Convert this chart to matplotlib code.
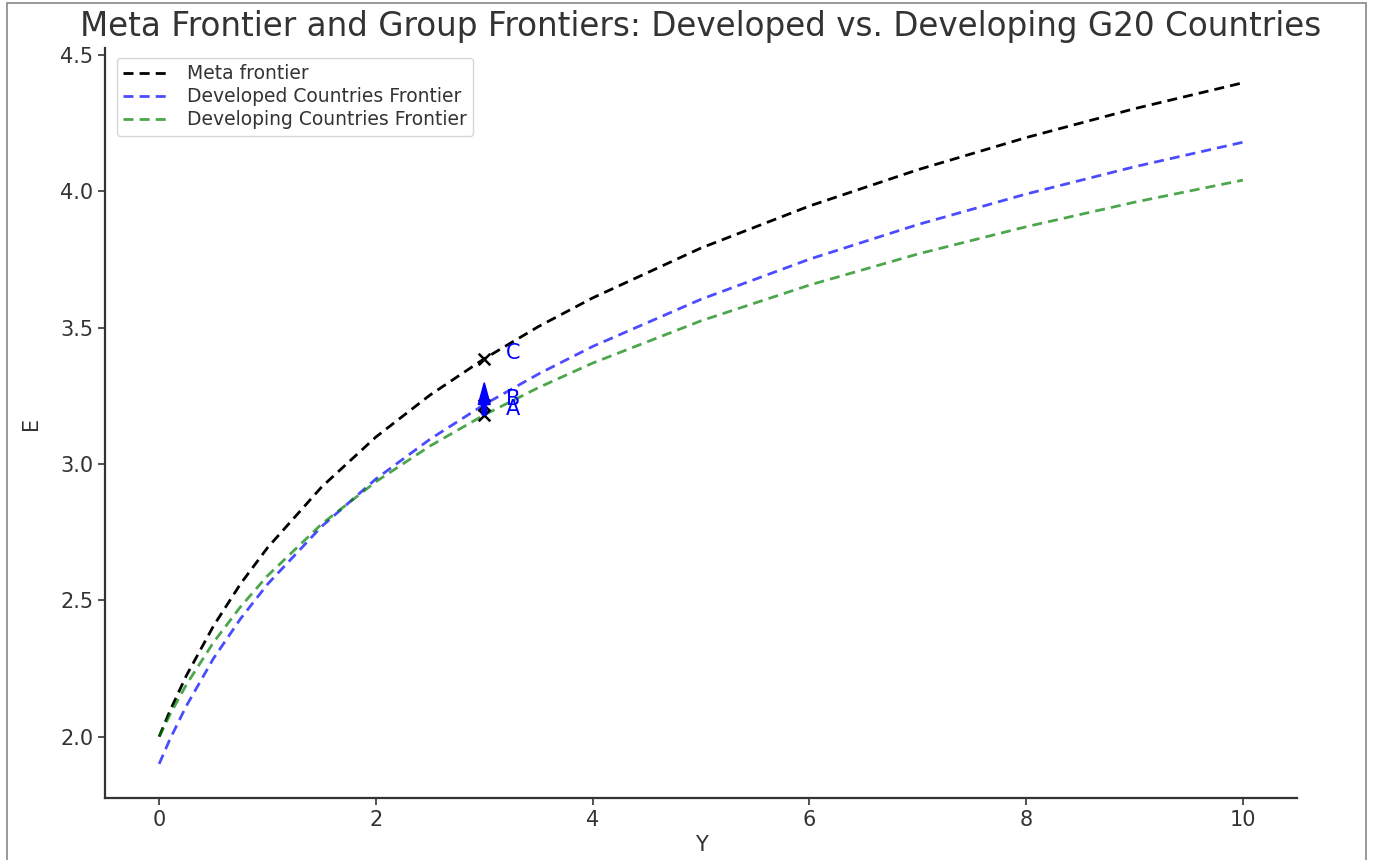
import numpy as np
import matplotlib.pyplot as plt
from matplotlib.patches import Rectangle

# values
Y = [0, 0.1, 0.25, 0.5, 0.75, 1, 1.5, 2, 2.5, 3, 3.5, 4, 5, 6, 7, 8, 9, 10]
E_meta = [2.000, 2.095, 2.223, 2.405, 2.560, 2.693, 2.916, 3.099, 3.253, 3.386,
          3.504, 3.609, 3.792, 3.946, 4.079, 4.197, 4.303, 4.398]
E_developed = [1.900, 1.991, 2.112, 2.286, 2.432, 2.559, 2.771, 2.945, 3.091, 3.218,
               3.330, 3.431, 3.604, 3.751, 3.878, 3.990, 4.090, 4.180]
E_developing = [2.000, 2.081, 2.190, 2.345, 2.476, 2.590, 2.780, 2.935, 3.066, 3.180,
                3.280, 3.370, 3.525, 3.656, 3.770, 3.870, 3.960, 4.041]

# points A, B, C at Y = 3
pt_labels = ["A", "B", "C"]
pt_y = 3
pt_E = [3.180, 3.218, 3.386]

fig = plt.figure(figsize=(13.74, 8.6), dpi=100)
ax = fig.add_axes([0.0764, 0.0721, 0.8676, 0.8719])

dash = (3.6, 2.2)
lw = 2.0
ax.plot(Y, E_meta, color="black", linestyle="--", dashes=dash, linewidth=lw, label="Meta frontier")
ax.plot(Y, E_developed, color="blue", alpha=0.7, linestyle="--", dashes=dash, linewidth=lw,
        label="Developed Countries Frontier")
ax.plot(Y, E_developing, color="green", alpha=0.7, linestyle="--", dashes=dash, linewidth=lw,
        label="Developing Countries Frontier")

# markers and labels
for lab, e in zip(pt_labels, pt_E):
    ax.scatter(pt_y, e, marker="x", color="black", s=70, linewidths=1.8, zorder=4)
    ax.text(pt_y + 0.2, e, lab, color="blue", fontsize=15)

# arrow from A towards B
ax.arrow(pt_y, pt_E[0], 0, pt_E[1] - pt_E[0], width=0.04, head_width=0.11,
         head_length=0.08, color="blue", zorder=5)

ax.set_title("Meta Frontier and Group Frontiers: Developed vs. Developing G20 Countries",
             fontsize=23.5, color="#333333", pad=9)
ax.set_xlabel("Y", fontsize=15, color="#333333")
ax.set_ylabel("E", fontsize=15, color="#333333", labelpad=14)
ax.set_xlim(-0.5, 10.5)
ax.set_ylim(1.775, 4.525)
ax.set_xticks([0, 2, 4, 6, 8, 10])
ax.set_yticks([2.0, 2.5, 3.0, 3.5, 4.0, 4.5])
ax.tick_params(labelsize=15, colors="#333333", length=5, width=1.2)
for s in ["top", "right"]:
    ax.spines[s].set_visible(False)
for s in ["left", "bottom"]:
    ax.spines[s].set_color("#333333")
    ax.spines[s].set_linewidth(1.6)

leg = ax.legend(loc="upper left", fontsize=13.5, frameon=True, borderpad=0.35,
                handlelength=2.3, handletextpad=1.1, labelspacing=0.22,
                bbox_to_anchor=(0.002, 1.0))
for t in leg.get_texts():
    t.set_color("#333333")

# outer frame of the screenshot
fig.patches.append(Rectangle((0.005, -0.01), 0.989, 1.007, transform=fig.transFigure,
                             fill=False, edgecolor="#888888", linewidth=1.2))

fig.savefig("out.png", dpi=100)
